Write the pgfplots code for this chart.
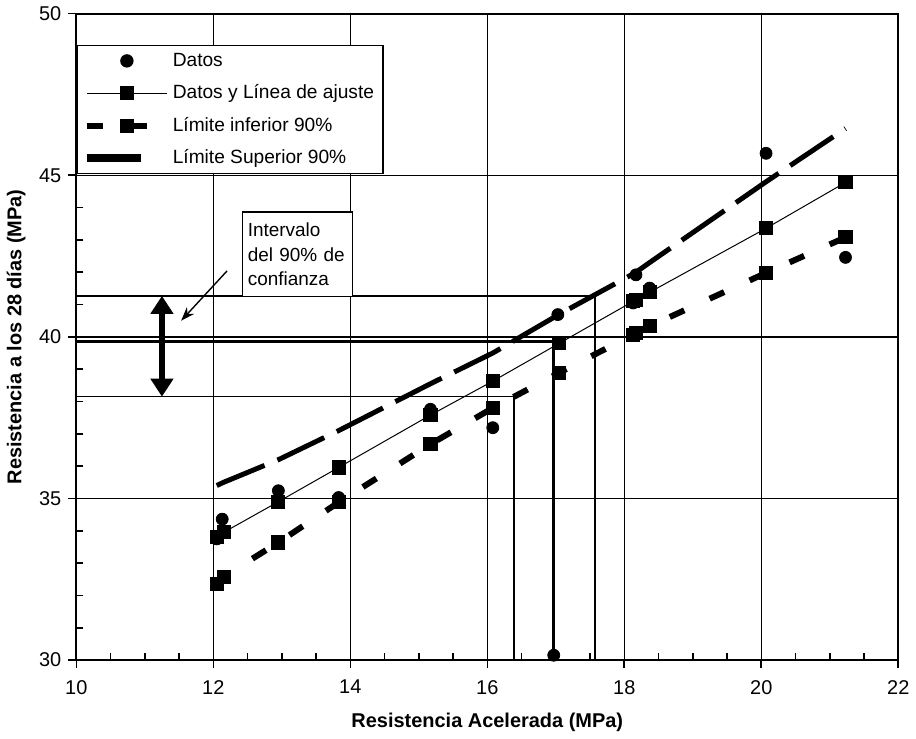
\documentclass[border=0pt]{standalone}
\usepackage{fontspec}
\setmainfont{Liberation Sans}
\usepackage{pgfplots}
\pgfplotsset{compat=1.18}
\usetikzlibrary{arrows.meta}
\pgfplotsset{upper legend/.style={legend image code/.code={%
    \draw[##1, line width=4pt, solid] (0pt,0pt) -- (27pt,0pt);}}}

\begin{document}
\begin{tikzpicture}
\begin{axis}[
    scale only axis,
    width=412pt, height=324pt,
    xmin=10, xmax=22, ymin=30, ymax=50,
    xtick={10,12,...,22}, ytick={30,35,...,50},
    minor x tick num=3, minor y tick num=4,
    tick pos=left,
    tick align=outside,
    major tick length=4pt, minor tick length=-3.5pt,
    tick style={black, line width=0.8pt},
    grid=major,
    major grid style={black, line width=0.7pt},
    axis line style={black, line width=1pt},
    /pgf/number format/assume math mode=true,
    ticklabel style={font=\fontsize{10}{12}\selectfont},
    xticklabel style={yshift=-2.5pt},
    xlabel={Resistencia Acelerada (MPa)},
    ylabel={Resistencia a los 28 días (MPa)},
    xlabel style={yshift=-2.5pt},
    label style={font=\bfseries\fontsize{10}{12}\selectfont},
    legend style={at={(0,0.952)}, anchor=north west, draw=black, line width=0.7pt,
        fill=white, font=\fontsize{9.6}{12}\selectfont, row sep=2.75pt,
        inner xsep=3pt, inner ysep=1pt,
        nodes={inner sep=1.5pt, text height=8pt, text depth=2.5pt}},
    legend cell align=left,
    legend image code/.code={\draw[mark repeat=2,mark phase=2,#1]
        plot coordinates {(0pt,0pt) (20pt,0pt) (40pt,0pt)};},
]
% annotation lines
\addplot[black, line width=0.8pt, forget plot] coordinates {(10,41.27) (17.57,41.27) (17.57,30)};
\addplot[black, line width=0.8pt, forget plot] coordinates {(10,38.15) (16.39,38.15) (16.39,30)};
\addplot[black, line width=1.6pt, forget plot] coordinates {(10,39.85) (16.97,39.85) (16.97,30.15)};

\addplot[only marks, mark=*, mark size=3pt, black] coordinates {
(12.05,33.75) (12.13,34.36) (12.95,35.24) (13.83,35.03) (15.17,37.76) (16.08,37.19)
(17.03,40.69) (16.97,30.15) (18.13,41.05) (18.17,41.92) (18.37,41.51) (20.07,45.68) (21.23,42.46)};
\addlegendentry{Datos}

\addplot[black, line width=0.5pt, mark=square*, mark size=3.3pt] coordinates {
(12.05,33.80) (12.15,33.95) (12.95,34.90) (13.83,35.96) (15.17,37.58) (16.08,38.63)
(17.05,39.80) (18.13,41.10) (18.17,41.15) (18.37,41.38) (20.07,43.36) (21.23,44.78)};
\addlegendentry{Datos y Línea de ajuste}

\addplot[black, line width=3pt, dash pattern=on 8pt off 14pt, mark=square*, mark size=3.3pt,
    mark options={solid, line width=0.5pt}] coordinates {
(12.05,32.36) (12.15,32.58) (12.95,33.64) (13.83,34.88) (15.17,36.68) (16.08,37.80)
(17.05,38.89) (18.13,40.07) (18.17,40.12) (18.37,40.33) (20.07,41.98) (21.23,43.08)};
\addlegendentry{Límite inferior 90\%}

\addplot[black, line width=2.5pt, dash pattern=on 26pt off 7pt, upper legend] coordinates {
(12.05,35.40) (12.15,35.50) (12.95,36.20) (13.83,37.10) (15.17,38.55) (16.08,39.50)
(17.05,40.70) (18.13,41.95) (18.17,42.00) (18.37,42.30) (20.07,44.80) (21.23,46.45)};
\addlegendentry{Límite Superior 90\%}

\addplot[black, line width=3pt, {Triangle[width=11pt,length=9pt]}-{Triangle[width=11pt,length=9pt]}, forget plot]
    coordinates {(11.25,41.27) (11.25,38.15)};
\addplot[black, line width=0.7pt, -{Stealth[length=7pt,width=5pt]}, forget plot]
    coordinates {(12.2,42.04) (11.53,40.5)};

\node[draw=black, line width=0.7pt, fill=white, align=left, anchor=north west,
    text width=50pt, minimum height=42.5pt, inner sep=2.5pt,
    font=\fontsize{9.5}{12.5}\selectfont] at (axis cs:12.42,43.89)
    {Intervalo\\del 90\% de\\confianza};
\end{axis}
\end{tikzpicture}
\end{document}
